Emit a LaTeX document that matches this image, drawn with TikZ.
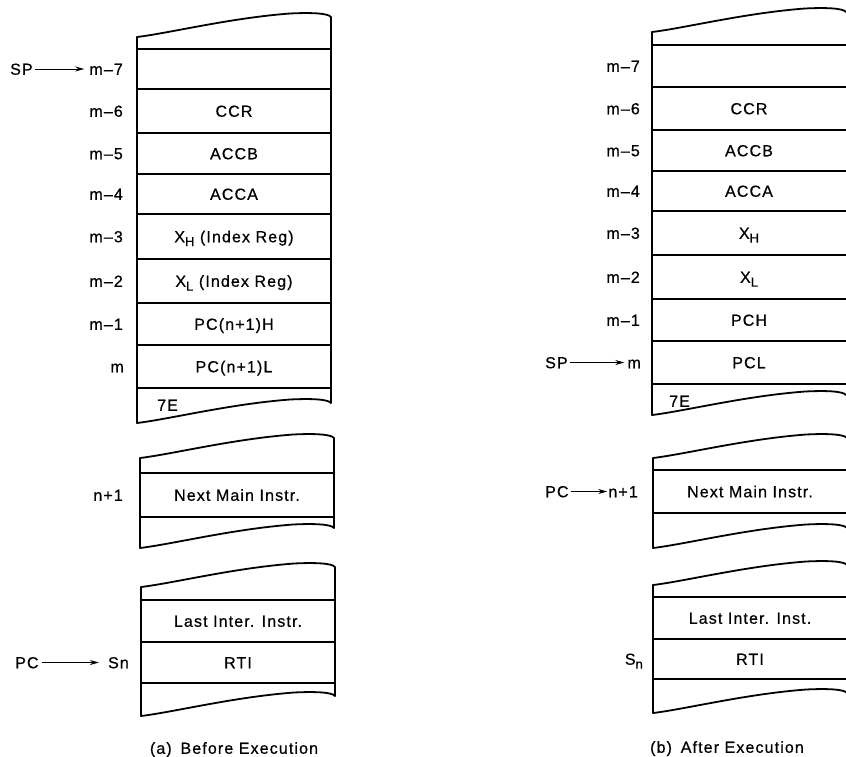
\documentclass[tikz,border=0pt]{standalone}
\usepackage{fontspec}
\setmainfont{Liberation Sans}[LetterSpace=7,FakeBold=0.6]
\usetikzlibrary{calc,arrows.meta}
\newcommand\wv[2]{(#1,#2) .. controls ($(#1,#2)+(33,-4)$) and ($(#1,#2)+(93,-19)$) .. ($(#1,#2)+(153,-23.5)$) .. controls ($(#1,#2)+(173,-24.5)$) and ($(#1,#2)+(191,-24)$) .. ($(#1,#2)+(194,-20)$)}
\newcommand\sub[1]{\raisebox{-0.45ex}{\fontsize{13}{14}\selectfont #1}}
\tikzset{
  edge/.style={line width=1.8pt, line join=round, line cap=round},
  sep/.style={line width=1.5pt},
  txt/.style={font=\fontsize{16}{19}\selectfont, inner sep=0pt, text height=11.5pt, text depth=0pt},
  cell/.style={txt, anchor=center},
  lab/.style={txt, anchor=east},
  ptr/.style={txt, anchor=west},
  arr/.style={line width=0.9pt, -{Stealth[length=9pt,width=5pt]}},
}
\begin{document}
\begin{tikzpicture}[x=1pt,y=-1pt]
\useasboundingbox (0,0) rectangle (846,756);

% ---------- (a) Before Execution ----------
% block A1
\draw[edge] \wv{137}{37};
\draw[edge] \wv{137}{423};
\draw[edge] (137,37) -- (137,423);
\draw[edge] (331,17) -- (331,403);
\foreach \y in {49,89,133,174,214,259,303,345,388} \draw[sep] (137,\y) -- (331,\y);
\node[cell] (aCCR) at (234,111) {CCR};
\node[cell] (aACCB) at (234,153.5) {ACCB};
\node[cell] (aACCA) at (234,194) {ACCA};
\node[cell] (aXH) at (234,236.5) {X\sub{H} (Index Reg)};
\node[cell] (aXL) at (234,281) {X\sub{L} (Index Reg)};
\node[cell] (aPCH) at (234,324) {PC(n+1)H};
\node[cell] (aPCL) at (234,366.5) {PC(n+1)L};
\node[ptr] (a7E) at (157,405) {7E};
\node[lab] (am7) at (123,69) {m–7};
\node[lab] (am6) at (123,111) {m–6};
\node[lab] (am5) at (123,153.5) {m–5};
\node[lab] (am4) at (123,194) {m–4};
\node[lab] (am3) at (123,236.5) {m–3};
\node[lab] (am2) at (123,281) {m–2};
\node[lab] (am1) at (123,324) {m–1};
\node[lab] (am) at (124,366.5) {m};
\node[ptr] (aSP) at (10,69) {SP};
\draw[arr, shorten <=2pt, shorten >=5pt] (aSP.east) -- (am7.west);

% block A2
\draw[edge] \wv{140}{458};
\draw[edge] \wv{140}{548};
\draw[edge] (140,458) -- (140,548);
\draw[edge] (334,438) -- (334,528);
\foreach \y in {473,517} \draw[sep] (140,\y) -- (334,\y);
\node[cell] (aNext) at (237,495) {Next Main Instr.};
\node[lab] (an1) at (123,495) {n+1};

% block A3
\draw[edge] \wv{141}{587};
\draw[edge] \wv{141}{716};
\draw[edge] (141,587) -- (141,716);
\draw[edge] (335,567) -- (335,696);
\foreach \y in {600,642,683} \draw[sep] (141,\y) -- (335,\y);
\node[cell] (aLast) at (238,621) {Last Inter. Instr.};
\node[cell] (aRTI) at (238,662.5) {RTI};
\node[lab] (aSn) at (129,662.5) {Sn};
\node[ptr] (aPC) at (15,662.5) {PC};
\draw[arr, shorten <=3pt, shorten >=9pt] (aPC.east) -- (aSn.west);

\node[txt, anchor=center] (capA) at (234,748) {(a)\hspace{0.55em}Before Execution};

% ---------- (b) After Execution ----------
% block B1
\draw[edge] \wv{652}{32};
\draw[edge] \wv{652}{415};
\draw[edge] (652,32) -- (652,415);
\foreach \y in {45,87,130,171,211,255,299,341,384} \draw[sep] (652,\y) -- (846,\y);
\node[cell] (bCCR) at (749,108.5) {CCR};
\node[cell] (bACCB) at (749,150.5) {ACCB};
\node[cell] (bACCA) at (749,191) {ACCA};
\node[cell] (bXH) at (749,233) {X\sub{H}};
\node[cell] (bXL) at (749,277) {X\sub{L}};
\node[cell] (bPCH) at (749,320) {PCH};
\node[cell] (bPCL) at (749,362.5) {PCL};
\node[ptr] (b7E) at (669,401) {7E};
\node[lab] (bm7) at (640,66) {m–7};
\node[lab] (bm6) at (640,108.5) {m–6};
\node[lab] (bm5) at (640,150.5) {m–5};
\node[lab] (bm4) at (640,191) {m–4};
\node[lab] (bm3) at (640,233) {m–3};
\node[lab] (bm2) at (640,277) {m–2};
\node[lab] (bm1) at (640,320) {m–1};
\node[lab] (bm) at (641,362.5) {m};
\node[ptr] (bSP) at (545,362.5) {SP};
\draw[arr, shorten <=2pt, shorten >=3pt] (bSP.east) -- (bm.west);

% block B2
\draw[edge] \wv{653}{458};
\draw[edge] \wv{653}{548};
\draw[edge] (653,458) -- (653,548);
\foreach \y in {470,513} \draw[sep] (653,\y) -- (846,\y);
\node[cell] (bNext) at (750,491.5) {Next Main Instr.};
\node[lab] (bn1) at (638,491.5) {n+1};
\node[ptr] (bPC) at (545,491.5) {PC};
\draw[arr, shorten <=2pt, shorten >=1pt] (bPC.east) -- (bn1.west);

% block B3
\draw[edge] \wv{653}{585};
\draw[edge] \wv{653}{713};
\draw[edge] (653,585) -- (653,713);
\foreach \y in {597,639,679} \draw[sep] (653,\y) -- (846,\y);
\node[cell] (bLast) at (750,618) {Last Inter. Inst.};
\node[cell] (bRTI) at (750,659) {RTI};
\node[lab] (bSn) at (643,659) {S\sub{n}};

\node[txt, anchor=center] (capB) at (727,747) {(b)\hspace{0.55em}After Execution};
\end{tikzpicture}
\end{document}
